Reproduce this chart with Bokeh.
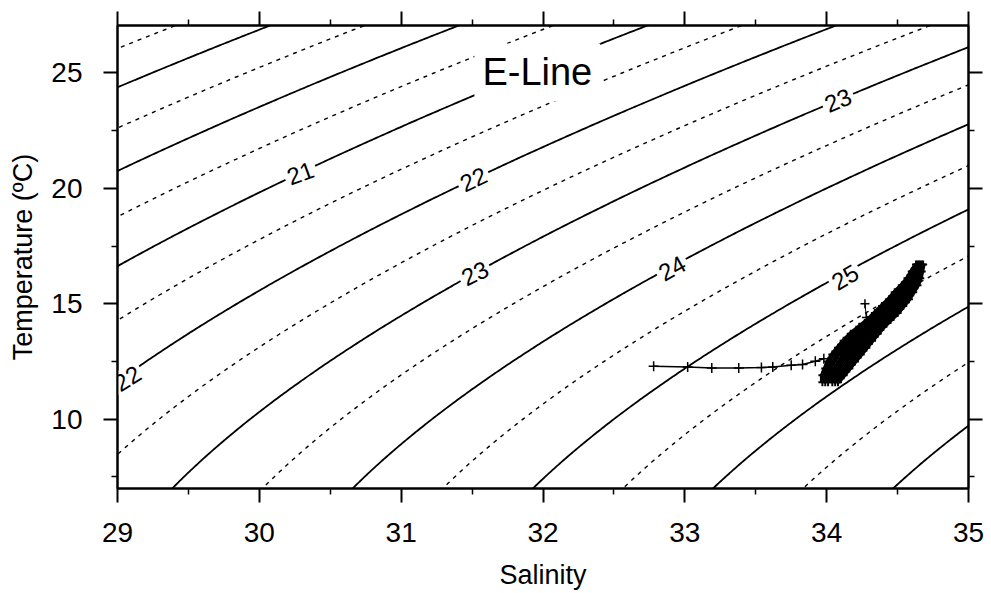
import numpy as np
from bokeh.plotting import figure
from bokeh.models import Range1d, LinearAxis, FixedTicker
from bokeh.core.properties import value
from bokeh.embed import file_html
from bokeh.resources import INLINE

FONT = "Liberation Sans"

# ---------------- data ----------------
x_ticks = [29, 30, 31, 32, 33, 34, 35]
x_minor = [29.5, 30.5, 31.5, 32.5, 33.5, 34.5]
y_ticks = [10, 15, 20, 25]
y_minor = [7.5, 12.5, 17.5, 22.5]

solid_levels = [17, 18, 19, 20, 21, 22, 23, 24, 25, 26, 27, 28]
dashed_levels = [16.5, 17.5, 18.5, 19.5, 20.5, 21.5, 22.5, 23.5, 24.5, 25.5, 26.5, 27.5]

# contour labels
label_text = ["21", "22", "23", "24", "25", "23", "22"]
label_s = [30.29, 31.51, 31.52, 32.91, 34.13, 34.08, 29.07]
label_t = [20.65, 20.39, 16.32, 16.54, 16.15, 23.81, 11.77]
label_angle = [20, 25, 26.5, 29, 30, 23, 32]

# CTD profiles (salinity, temperature)
prof_t = [16.7, 16.4, 16.1, 15.8, 15.5, 15.2, 14.9, 14.6, 14.3, 14.0,
          13.7, 13.4, 13.1, 12.8, 12.5, 12.2, 11.9, 11.6]
prof_a = [34.68, 34.67, 34.66, 34.64, 34.61, 34.58, 34.54, 34.50, 34.45, 34.40,
          34.36, 34.32, 34.28, 34.24, 34.20, 34.16, 34.12, 34.08]
prof_b = [34.67, 34.66, 34.64, 34.62, 34.58, 34.55, 34.51, 34.47, 34.42, 34.37,
          34.32, 34.28, 34.24, 34.20, 34.16, 34.13, 34.09, 34.06]
prof_c = [34.66, 34.64, 34.62, 34.60, 34.56, 34.52, 34.48, 34.44, 34.39, 34.33,
          34.28, 34.24, 34.20, 34.16, 34.12, 34.09, 34.06, 34.04]
prof_d = [34.65, 34.63, 34.61, 34.57, 34.53, 34.50, 34.45, 34.40, 34.35, 34.30,
          34.25, 34.20, 34.16, 34.12, 34.09, 34.06, 34.03, 34.01]
prof_e = [34.64, 34.61, 34.59, 34.55, 34.51, 34.47, 34.42, 34.37, 34.32, 34.26,
          34.21, 34.16, 34.12, 34.08, 34.05, 34.02, 34.00, 33.99]
prof_f = [34.63, 34.60, 34.57, 34.53, 34.48, 34.44, 34.39, 34.34, 34.29, 34.23,
          34.17, 34.12, 34.08, 34.04, 34.01, 33.99, 33.97, 33.97]

shelf_s = [32.78, 33.02, 33.19, 33.38, 33.54, 33.62, 33.75, 33.83, 33.92, 33.98]
shelf_t = [12.29, 12.26, 12.22, 12.22, 12.24, 12.26, 12.34, 12.37, 12.51, 12.62]

extra_s = [34.27, 34.28]
extra_t = [15.0, 14.4]

# ---------------- density field (UNESCO EOS-80, p = 0) ----------------
S_grid = np.linspace(28.8, 35.3, 260)
T_grid = np.linspace(6.5, 27.6, 260)
SS, TT = np.meshgrid(S_grid, T_grid)
rho_w = (999.842594 + 6.793952e-2 * TT - 9.095290e-3 * TT**2 + 1.001685e-4 * TT**3
         - 1.120083e-6 * TT**4 + 6.536332e-9 * TT**5)
rho = (rho_w
       + SS * (0.824493 - 4.0899e-3 * TT + 7.6438e-5 * TT**2 - 8.2467e-7 * TT**3 + 5.3875e-9 * TT**4)
       + SS**1.5 * (-5.72466e-3 + 1.0227e-4 * TT - 1.6546e-6 * TT**2)
       + 4.8314e-4 * SS**2)
sigma_t = rho - 1000.0

# ---------------- figure ----------------
p = figure(width=991, height=593, output_backend="svg", toolbar_location=None,
           x_range=Range1d(29, 35), y_range=Range1d(7, 27.05),
           min_border_left=117, min_border_right=23, min_border_top=25, min_border_bottom=105,
           background_fill_color="white", border_fill_color="white")
p.xgrid.visible = False
p.ygrid.visible = False
p.outline_line_color = "black"
p.outline_line_width = 2

p.contour(x=S_grid, y=T_grid, z=sigma_t, levels=solid_levels,
          line_color="black", line_width=1.8)
p.contour(x=S_grid, y=T_grid, z=sigma_t, levels=dashed_levels,
          line_color="black", line_width=1.4, line_dash="4 5")

# contour labels with white gaps
p.text(x=label_s, y=label_t, text=label_text, angle=label_angle, angle_units="deg",
       text_font=value(FONT), text_font_size="24px", text_color="black",
       text_align="center", text_baseline="middle",
       background_fill_color="white", padding=3)

p.text(x=[31.96], y=[25.02], text=["E-Line"], text_font=value(FONT), text_font_size="38px",
       text_color="black", text_align="center", text_baseline="middle",
       background_fill_color="white", padding=8)

# profiles
for prof in [prof_a, prof_b, prof_c, prof_d, prof_e, prof_f]:
    p.line(prof, prof_t, line_color="black", line_width=5)
    p.scatter(prof, prof_t, marker="cross", size=8, line_color="black", line_width=2)

p.line(shelf_s, shelf_t, line_color="black", line_width=1.5)
p.scatter(shelf_s, shelf_t, marker="cross", size=10, line_color="black", line_width=1.5)
p.scatter(extra_s, extra_t, marker="cross", size=9, line_color="black", line_width=1.5)
p.line(extra_s, extra_t, line_color="black", line_width=1)

# axes
def style(ax, labels=True):
    ax.axis_line_width = 2
    ax.axis_line_color = "black"
    ax.major_tick_line_width = 2
    ax.minor_tick_line_width = 1.5
    ax.major_tick_out = 14
    ax.major_tick_in = 0
    ax.minor_tick_out = 6
    ax.minor_tick_in = 0
    if labels:
        ax.major_label_text_font = FONT
        ax.major_label_text_font_size = "28px"
        ax.major_label_text_color = "black"
        ax.axis_label_text_font = FONT
        ax.axis_label_text_font_size = "27px"
        ax.axis_label_text_font_style = "normal"
        ax.axis_label_text_color = "black"
    else:
        ax.major_label_text_font_size = "0px"
        ax.major_label_text_color = None
        ax.major_label_standoff = 0

p.xaxis.ticker = FixedTicker(ticks=x_ticks, minor_ticks=x_minor)
p.yaxis.ticker = FixedTicker(ticks=y_ticks, minor_ticks=y_minor)
p.xaxis.axis_label = "Salinity"
p.yaxis.axis_label = "Temperature (\u00baC)"
style(p.xaxis[0])
style(p.yaxis[0])
p.xaxis.major_label_standoff = 20
p.yaxis.major_label_standoff = 21
p.xaxis.axis_label_standoff = 15
p.yaxis.axis_label_standoff = 10

top = LinearAxis(ticker=FixedTicker(ticks=x_ticks, minor_ticks=x_minor))
style(top, labels=False)
p.add_layout(top, "above")
right = LinearAxis(ticker=FixedTicker(ticks=y_ticks, minor_ticks=y_minor))
style(right, labels=False)
p.add_layout(right, "right")

open("out.html", "w").write(file_html(p, INLINE))
